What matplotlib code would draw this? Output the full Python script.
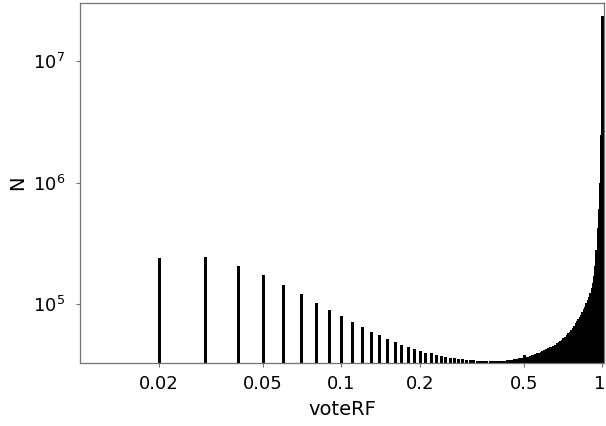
import numpy as np
import matplotlib
matplotlib.use("Agg")
import matplotlib.pyplot as plt
from matplotlib.ticker import NullLocator, FixedLocator
from matplotlib.transforms import ScaledTranslation

# vote fraction per tree ensemble (k/100 votes) and how many samples got it
vote_frac = np.arange(2, 101) / 100
counts = [
    240000, 244000, 207000, 174000, 143000, 121500, 103000, 90000, 80000,
    71000, 65000, 59500, 55500, 51500, 49000, 46600, 44900, 43000, 41400,
    40000, 39500, 38400, 37600, 37200, 36600, 36000, 35600, 35300, 35100,
    34800, 34600, 34400, 34300, 34200, 34200, 34100, 34200, 34200, 34300,
    34400, 34500, 34700, 34900, 35100, 35400, 35700, 36000, 36300, 38500,
    36800, 37200, 37700, 38300, 38900, 39500, 40200, 40900, 41600, 42300,
    43000, 43700, 44300, 44900, 45800, 46700, 47800, 48800, 49800, 50900,
    52500, 54200, 56000, 58000, 59800, 61600, 64000, 66800, 69800, 73000,
    76000, 79000, 81700, 86000, 91000, 96000, 102000, 108000, 115000, 124000,
    136000, 149000, 170000, 205000, 280000, 420000, 610000, 1000000, 2450000, 23300000,
]
xticks = [0.02, 0.05, 0.1, 0.2, 0.5, 1]
xticklabels = ["0.02", "0.05", "0.1", "0.2", "0.5", "1"]
yticks = [1e5, 1e6, 1e7]
yticklabels = [r"$10^5$", r"$10^6$", r"$10^7$"]

plt.rcParams["font.family"] = "DejaVu Sans"
plt.rcParams["mathtext.fontset"] = "dejavusans"

fig = plt.figure(figsize=(6.06, 4.26), dpi=100)
ax = fig.add_axes([0.1327, 0.1479, 0.8637, 0.8458])

# no antialiasing so the crowded bars near 1 merge into a solid block
ax.vlines(vote_frac, 1, counts, color="black", lw=1.8, antialiased=False)

ax.set_xscale("log")
ax.set_yscale("log")
ax.set_xlim(0.01, 1.014)
ax.set_ylim(3.3e4, 3.0e7)

ax.xaxis.set_major_locator(FixedLocator(xticks))
ax.xaxis.set_minor_locator(NullLocator())
ax.set_xticklabels(xticklabels)
ax.yaxis.set_major_locator(FixedLocator(yticks))
ax.yaxis.set_minor_locator(NullLocator())
ax.set_yticklabels(yticklabels)

ax.tick_params(axis="both", labelsize=13, length=3, width=0.8, color="0.45")
ax.tick_params(axis="y", pad=8)
ax.tick_params(axis="x", pad=6)
for s in ax.spines.values():
    s.set_color("0.45")
    s.set_linewidth(0.9)

# keep the "1" label inside the canvas
last = ax.get_xticklabels()[-1]
last.set_transform(last.get_transform() + ScaledTranslation(-2 / 72, 0, fig.dpi_scale_trans))

ax.set_xlabel("voteRF", fontsize=14, labelpad=5)
ax.set_ylabel("N", fontsize=14, labelpad=4)

fig.savefig("out.png", dpi=100)
